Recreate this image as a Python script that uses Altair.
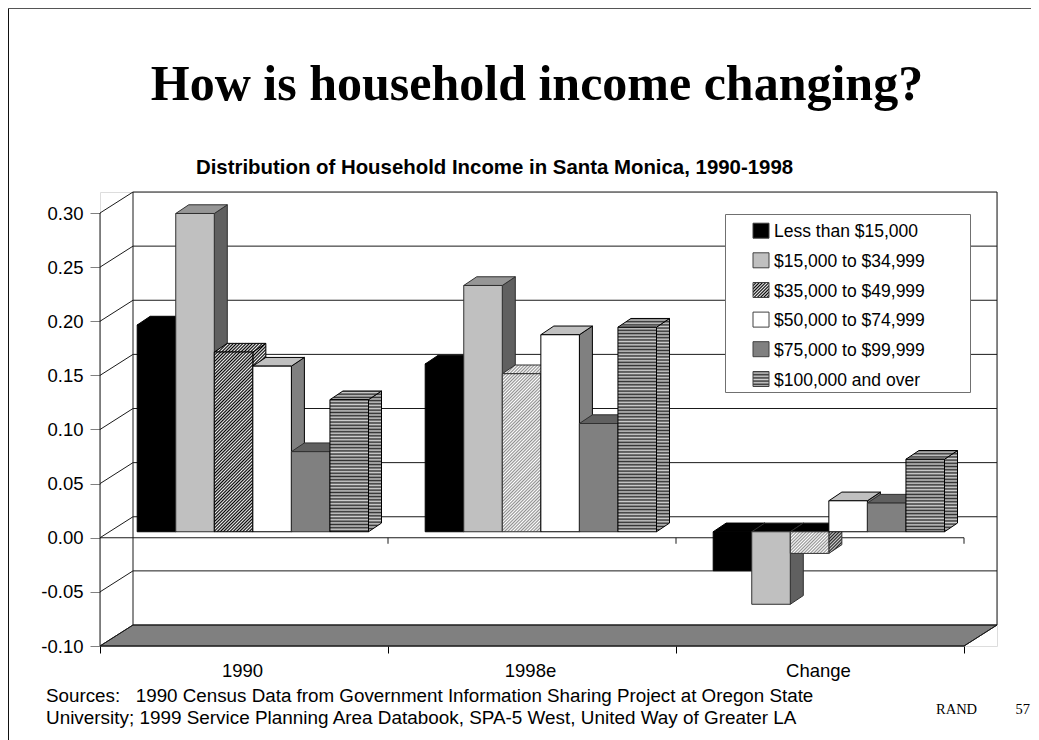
import altair as alt

GROUPS = ["1990", "1998e", "Change"]
SERIES = ["Less than $15,000", "$15,000 to $34,999", "$35,000 to $49,999",
          "$50,000 to $74,999", "$75,000 to $99,999", "$100,000 and over"]
LESS_15 = [0.191, 0.155, -0.036]
FROM_15 = [0.294, 0.2275, -0.067]
FROM_35 = [0.166, 0.146, -0.020]
FROM_50 = [0.153, 0.182, 0.0286]
FROM_75 = [0.074, 0.100, 0.0265]
OVER_100 = [0.122, 0.189, 0.067]
VALUES = [LESS_15, FROM_15, FROM_35, FROM_50, FROM_75, OVER_100]
Y_TICKS = [-0.10, -0.05, 0.00, 0.05, 0.10, 0.15, 0.20, 0.25, 0.30]
X_TICKS = [0, 1, 2, 3]

# projection of the 3D box, in pixels per data unit
PX_X, PX_Y = 288.0, 1082.5
WALL_DX, WALL_DY = 33 / PX_X, 21 / PX_Y
BAR_L, BAR_W = 37.2 / PX_X, 38.55 / PX_X
BAR_DX, BAR_DY = 13 / PX_X, 8.7 / PX_Y
BASE = 6 / PX_Y

xs = alt.Scale(domain=[0, 3 + WALL_DX], range=[0, 897], nice=False, zero=False)
ys = alt.Scale(domain=[-0.10, 0.30 + WALL_DY], range=[454, 0], nice=False, zero=False)
x_axis = alt.Axis(values=X_TICKS, labels=False, domain=False, grid=False, tickSize=7,
                  tickColor="#000000", title=None)
y_axis = alt.Axis(values=Y_TICKS, domain=False, grid=False, tickSize=10, tickColor="#808080",
                  tickWidth=1, labelFont="Liberation Sans", labelFontSize=18.5, labelColor="#000000",
                  labelPadding=7,
                  labelExpr="(datum.value < -0.001 ? '-' : '') + format(abs(datum.value), '.2f')",
                  title=None)
X = lambda f="x": alt.X(f + ":Q", scale=xs, axis=x_axis, title=None)
Y = lambda f="y": alt.Y(f + ":Q", scale=ys, axis=y_axis, title=None)


def stripes(h, p, c1, c2):
    stops, k, pos = [], 0, 0.0
    while pos <= h:
        stops.append({"offset": pos / h, "color": c1 if k % 2 == 0 else c2})
        pos, k = pos + p, k + 1
    return {"gradient": "linear", "x1": 0, "y1": 0, "x2": 0, "y2": 1, "stops": stops}


def diag(w, h, p, c1, c2):
    s = w + h
    n = w * w + h * h
    stops, k, pos = [], 0, 0.0
    while pos <= s:
        stops.append({"offset": pos / s, "color": c1 if k % 2 == 0 else c2})
        pos, k = pos + p, k + 1
    return {"gradient": "linear", "x1": 0, "y1": 0, "x2": w * s / n, "y2": h * s / n, "stops": stops}


def hstripe(w, h):
    return stripes(h, 1.6, "#303030", "#d0d0d0")


def hatch_dark(w, h):
    return diag(w, h, 1.6, "#000000", "#f0f0f0")


def hatch_light(w, h):
    return diag(w, h, 1.6, "#909090", "#ffffff")


def hatch_mid(w, h):
    return diag(w, h, 1.6, "#202020", "#d0d0d0")


def style(g, s):
    """fill for (front, top, side) of a bar; each may be a colour or a gradient maker"""
    if s == 0:
        return "#000000", "#000000", "#000000", "#000000"
    if s == 1:
        return "#c0c0c0", ("#000000" if g == 2 else "#969696"), "#606060", "#303030"
    if s == 2:
        if g == 0:
            return hatch_dark, hatch_dark, hatch_dark, "#000000"
        if g == 1:
            return hatch_light, hatch_light, hatch_light, "#303030"
        return hatch_light, "#000000", hatch_mid, "#303030"
    if s == 3:
        return "#ffffff", "#c0c0c0", "#808080", "#000000"
    if s == 4:
        return "#808080", "#606060", "#404040", "#303030"
    return hstripe, hstripe, hstripe, "#000000"


def fill_of(f, w, h):
    return f(w, h) if callable(f) else f


layers = []

# floor
floor = [{"y": -0.10 + WALL_DY, "x": WALL_DX, "x2": 3 + WALL_DX},
         {"y": -0.10, "x": 0, "x2": 3}]
layers.append(alt.Chart(alt.Data(values=floor)).mark_area(
    orient="horizontal", fill="#808080", stroke="#202020", strokeWidth=1
).encode(y=Y(), x=X(), x2="x2:Q"))

# walls and grid
segs = []


def seg(i, x0, y0, x1, y1):
    segs.append({"id": i, "k": 0, "x": x0, "y": y0})
    segs.append({"id": i, "k": 1, "x": x1, "y": y1})


for n, v in enumerate(Y_TICKS):
    seg("b%d" % n, WALL_DX, v + WALL_DY, 3 + WALL_DX, v + WALL_DY)
    seg("d%d" % n, 0, v, WALL_DX, v + WALL_DY)
seg("z", 0, 0, 3, 0)
seg("f", 0, -0.10, 3, -0.10)
seg("l", 0, -0.10, 0, 0.30)
seg("bl", WALL_DX, -0.10 + WALL_DY, WALL_DX, 0.30 + WALL_DY)
seg("br", 3 + WALL_DX, -0.10 + WALL_DY, 3 + WALL_DX, 0.30 + WALL_DY)
seg("fr", 3, -0.10, 3 + WALL_DX, -0.10 + WALL_DY)
for n in (1, 2, 3):
    seg("t%d" % n, n, 0, n, -6 / PX_Y)
layers.append(alt.Chart(alt.Data(values=segs)).mark_line(
    color="#1a1a1a", strokeWidth=1, interpolate="linear", clip=False
).encode(x=X(), y=Y(), detail="id:N", order="k:Q"))

# bars: side, top, front, painted bar by bar
for g in range(3):
    for s in range(6):
        v = VALUES[s][g]
        xl = g + BAR_L + s * BAR_W
        xr = xl + BAR_W
        ft = max(v, 0) + BASE
        fb = min(v, 0) + BASE
        hpx = (ft - fb) * PX_Y
        wpx = BAR_W * PX_X
        f_front, f_top, f_side, edge = style(g, s)
        side = [{"x": xr, "y": fb, "y2": ft},
                {"x": xr + BAR_DX, "y": fb + BAR_DY, "y2": ft + BAR_DY}]
        top = [{"y": ft, "x": xl, "x2": xr},
               {"y": ft + BAR_DY, "x": xl + BAR_DX, "x2": xr + BAR_DX}]
        front = [{"x": xl, "x2": xr, "y": fb, "y2": ft}]
        layers.append(alt.Chart(alt.Data(values=side)).mark_area(
            fill=fill_of(f_side, BAR_DX * PX_X, hpx + BAR_DY * PX_Y),
            stroke=edge, strokeWidth=1
        ).encode(x=X(), y=Y(), y2="y2:Q"))
        layers.append(alt.Chart(alt.Data(values=top)).mark_area(
            orient="horizontal",
            fill=fill_of(f_top, wpx + BAR_DX * PX_X, BAR_DY * PX_Y),
            stroke=edge, strokeWidth=1
        ).encode(y=Y(), x=X(), x2="x2:Q"))
        layers.append(alt.Chart(alt.Data(values=front)).mark_rect(
            fill=fill_of(f_front, wpx, hpx), stroke=edge, strokeWidth=1
        ).encode(x=X(), x2="x2:Q", y=Y(), y2="y2:Q"))

# category labels
cats = [{"x": i + 0.5 - 1.5 / PX_X, "t": c} for i, c in enumerate(GROUPS)]
layers.append(alt.Chart(alt.Data(values=cats)).mark_text(
    font="Liberation Sans", fontSize=18.5, color="#000000", baseline="alphabetic"
).encode(x=X(), y=alt.value(485), text="t:N"))

# page offsets: plot origin sits at page (100, 192)
OX, OY = 100, 192


def rect(x0, y0, x1, y1, **kw):
    return alt.Chart(alt.Data(values=[{"a": 1}])).mark_rect(**kw).encode(
        x=alt.value(x0 - OX), x2=alt.value(x1 - OX), y=alt.value(y0 - OY), y2=alt.value(y1 - OY))


def text(s, x, y, **kw):
    return alt.Chart(alt.Data(values=[{"t": s}])).mark_text(
        align=kw.pop("align", "left"), baseline="alphabetic", color="#000000", **kw
    ).encode(x=alt.value(x - OX), y=alt.value(y - OY), text="t:N")


# slide frame
layers.append(rect(8, 8, 9, 740, fill="#111111"))
layers.append(rect(8, 8, 1031, 9, fill="#555555"))

# legend
layers.append(rect(725.5, 214.5, 970.5, 392.5, fill="#ffffff", stroke="#707070", strokeWidth=1))
ROW_Y = [230.7, 260.3, 290, 319.6, 349.2, 379]
SW_FILL = ["#000000", "#c0c0c0", hatch_dark, "#ffffff", "#808080", hstripe]
for name, cy, f in zip(SERIES, ROW_Y, SW_FILL):
    layers.append(rect(753, cy - 7.5, 769, cy + 7.5, fill=fill_of(f, 16, 15),
                       stroke="#404040", strokeWidth=1))
    layers.append(text(name, 774, cy + 6.5, font="Liberation Sans", fontSize=17.5))

# titles and notes
layers.append(text("How is household income changing?", 537, 100, align="center",
                   font="Liberation Serif", fontWeight="bold", fontSize=50))
layers.append(text("Distribution of Household Income in Santa Monica, 1990-1998", 494.5, 174,
                   align="center", font="Liberation Sans", fontWeight="bold", fontSize=20.4))
layers.append(text("Sources:\u00a0\u00a0\u00a01990 Census Data from Government Information Sharing Project at Oregon State",
                   46, 702, font="Liberation Sans", fontSize=18.8))
layers.append(text("University; 1999 Service Planning Area Databook, SPA-5 West, United Way of Greater LA",
                   46, 724, font="Liberation Sans", fontSize=18.9))
layers.append(text("RAND", 936, 714, font="Liberation Serif", fontSize=14.5))
layers.append(text("57", 1030, 714, align="right", font="Liberation Serif", fontSize=14.5))

chart = alt.layer(*layers).properties(
    width=897, height=454,
    padding={"left": 92, "top": 184, "right": 34, "bottom": 94},
    autosize=alt.AutoSizeParams(type="none"),
).configure_view(stroke=None).configure(background="#ffffff")

chart.save("out.html", embed_options={"renderer": "svg", "actions": False})
